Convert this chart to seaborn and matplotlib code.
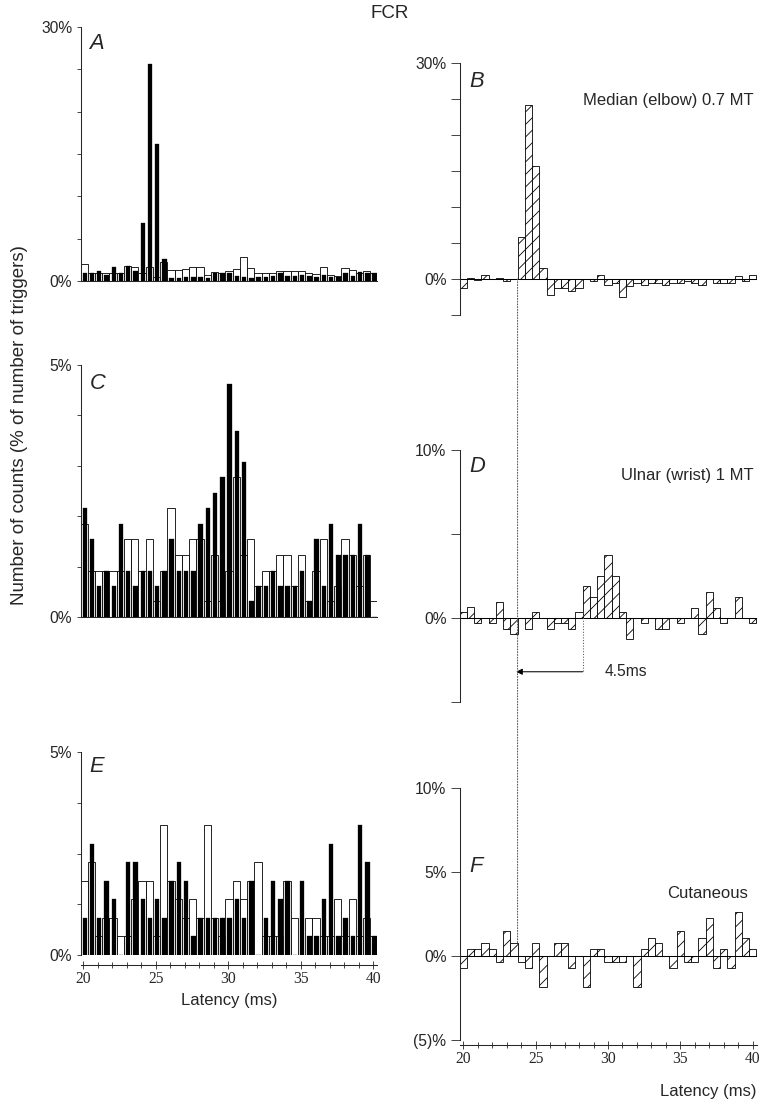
import matplotlib
matplotlib.use("Agg")
import matplotlib.pyplot as plt
from matplotlib.patches import ConnectionPatch
from matplotlib.ticker import MultipleLocator
import seaborn as sns

# latency bins (ms), 0.5 ms wide
latency = [20.0, 20.5, 21.0, 21.5, 22.0, 22.5, 23.0, 23.5, 24.0, 24.5,
           25.0, 25.5, 26.0, 26.5, 27.0, 27.5, 28.0, 28.5, 29.0, 29.5,
           30.0, 30.5, 31.0, 31.5, 32.0, 32.5, 33.0, 33.5, 34.0, 34.5,
           35.0, 35.5, 36.0, 36.5, 37.0, 37.5, 38.0, 38.5, 39.0, 39.5, 40.0]

# left column: counts as % of triggers, white = control, black = conditioned
a_control = [2.0, 0.95, 0.95, 0.95, 0.95, 0.95, 1.8, 1.6, 1.0, 1.7,
             0.5, 2.2, 1.3, 1.3, 1.4, 1.6, 1.6, 0.7, 1.1, 0.95,
             1.2, 1.4, 2.8, 1.5, 0.9, 0.95, 0.95, 1.2, 1.2, 1.2,
             1.2, 0.95, 0.8, 1.6, 0.7, 0.6, 1.5, 1.3, 0.9, 1.2, 0.9]
a_cond = [0.9, 0.95, 1.2, 0.7, 1.6, 0.95, 1.8, 1.2, 6.9, 25.6,
          16.2, 2.6, 0.3, 0.4, 0.5, 0.5, 0.5, 0.4, 0.95, 0.95,
          0.95, 0.6, 0.5, 0.4, 0.5, 0.5, 0.6, 0.95, 0.6, 0.6,
          0.7, 0.6, 0.5, 0.7, 0.5, 0.5, 0.9, 0.6, 1.1, 0.95, 0.95]

c_control = [1.85, 0.92, 0.92, 0.92, 0.92, 0.92, 1.54, 1.54, 0.92, 1.54,
             0.31, 0.92, 2.16, 1.23, 1.23, 1.54, 1.54, 0.31, 1.23, 0.31,
             0.92, 2.78, 1.23, 1.54, 0.62, 0.92, 0.92, 1.23, 1.23, 0.62,
             1.23, 0.31, 0.92, 1.54, 0.31, 0.62, 1.54, 1.23, 0.62, 1.23, 0.31]
c_cond = [2.16, 1.54, 0.62, 0.92, 0.62, 1.85, 0.92, 0.62, 0.92, 0.92,
          0.62, 0.92, 1.54, 0.92, 0.92, 0.92, 1.85, 2.16, 2.47, 2.78,
          4.63, 3.70, 3.08, 0.31, 0.62, 0.62, 0.92, 0.62, 0.62, 0.62,
          0.92, 0.31, 1.54, 0.62, 1.85, 1.23, 1.23, 1.23, 1.85, 1.23, 0.0]

e_control = [1.82, 2.28, 0.46, 0.91, 0.91, 0.46, 0.46, 1.37, 1.82, 1.82,
             0.46, 3.19, 1.82, 1.37, 0.91, 1.37, 0.91, 3.19, 0.91, 0.46,
             1.37, 1.82, 1.37, 1.82, 2.28, 0.46, 0.46, 0.46, 1.82, 0.91,
             0.0, 0.91, 0.91, 0.46, 0.46, 1.37, 0.46, 1.37, 0.46, 0.91, 0.46]
e_cond = [0.91, 2.73, 0.91, 1.82, 1.37, 0.0, 2.28, 2.28, 1.37, 0.91,
          1.37, 0.91, 1.82, 2.28, 1.82, 0.46, 0.91, 0.91, 0.91, 0.91,
          0.91, 1.37, 0.91, 1.82, 0.0, 0.91, 1.82, 1.37, 1.82, 0.0,
          1.82, 0.46, 0.46, 1.37, 2.73, 0.46, 0.91, 0.46, 3.19, 2.28, 0.46]

# right column: conditioned - control (%)
b_diff = [-1.2, 0.2, -0.2, 0.6, 0.0, 0.2, -0.3, 0.0, 5.9, 24.1,
          15.7, 1.5, -2.2, -1.3, -1.3, -1.6, -1.3, 0.0, -0.3, 0.6,
          -0.8, -0.5, -2.5, -1.0, -0.6, -0.8, -0.6, -0.6, -0.8, -0.5,
          -0.5, -0.3, -0.5, -0.9, 0.0, -0.6, -0.6, -0.6, 0.4, -0.3, 0.5]
d_diff = [0.35, 0.65, -0.3, 0.0, -0.3, 0.95, -0.63, -0.95, 0.0, -0.63,
          0.35, 0.0, -0.63, -0.3, -0.3, -0.63, 0.35, 1.9, 1.25, 2.5,
          3.76, 2.5, 0.35, -1.25, 0.0, -0.3, 0.0, -0.63, -0.63, 0.0,
          -0.3, 0.0, 0.6, -0.95, 1.55, 0.6, -0.3, 0.0, 1.25, 0.0, -0.3]
f_diff = [-0.73, 0.4, 0.4, 0.75, 0.4, -0.38, 1.5, 0.75, -0.38, -0.73,
          0.75, -1.87, 0.0, 0.75, 0.75, -0.73, 0.0, -1.87, 0.4, 0.4,
          -0.38, -0.38, -0.38, 0.0, -1.87, 0.4, 1.1, 0.75, 0.0, -0.73,
          1.5, -0.38, -0.38, 1.1, 2.24, -0.73, 0.4, -0.73, 2.6, 1.1, 0.4]

onset_ms = 23.75      # onset of median facilitation
ulnar_ms = 28.25      # onset of ulnar facilitation
arrow_level = -3.2

sns.set_style("ticks")
plt.rcParams["font.family"] = ["Liberation Sans", "DejaVu Sans"]
plt.rcParams["hatch.linewidth"] = 0.8
plt.rcParams["axes.linewidth"] = 1.0

W, H = 772, 1112
fig = plt.figure(figsize=(W / 75, H / 75), dpi=75)


def add_panel(left, top, right, bottom):
    return fig.add_axes([left / W, 1 - bottom / H, (right - left) / W, (bottom - top) / H])


def paired_bars(ax, control, cond):
    sns.barplot(x=[v + 0.05 for v in latency], y=control, native_scale=True, width=1.0,
                color="white", edgecolor="black", linewidth=0.8, saturation=1,
                errorbar=None, ax=ax)
    sns.barplot(x=[v + 0.1 for v in latency], y=cond, native_scale=True, width=0.6,
                color="black", edgecolor="black", linewidth=0.3, saturation=1,
                errorbar=None, ax=ax)


def diff_bars(ax, diff):
    sns.barplot(x=latency, y=diff, native_scale=True, width=1.0, color="white",
                edgecolor="black", linewidth=0.8, hatch="//", saturation=1,
                errorbar=None, ax=ax)
    ax.axhline(0, color="black", lw=1.0)


def style_left(ax, ymax, ticks, labels):
    ax.set_xlim(19.81, 40.3)
    ax.set_ylim(0, ymax)
    ax.set_yticks(ticks, labels=labels)
    ax.tick_params(axis="y", direction="out", length=4, width=0.8, labelsize=15, pad=4)
    ax.tick_params(axis="x", bottom=False, labelbottom=False)
    sns.despine(ax=ax)
    ax.set_xlabel("")
    ax.set_ylabel("")


def style_right(ax, ymin, ymax, ticks, labels):
    ax.set_xlim(19.77, 40.3)
    ax.set_ylim(ymin, ymax)
    ax.set_yticks(ticks, labels=labels)
    ax.tick_params(axis="y", direction="out", length=9, width=0.8, labelsize=15, pad=4)
    ax.tick_params(axis="x", bottom=False, labelbottom=False)
    sns.despine(ax=ax, bottom=True)
    ax.set_xlabel("")
    ax.set_ylabel("")


def latency_axis(ax, offset):
    ax.spines["bottom"].set_visible(True)
    ax.spines["bottom"].set_position(("outward", offset))
    ax.set_xticks([20, 25, 30, 35, 40], labels=["20", "25", "30", "35", "40"],
                  fontfamily="Liberation Serif", fontsize=15)
    ax.xaxis.set_minor_locator(MultipleLocator(1))
    ax.tick_params(axis="x", which="major", bottom=True, labelbottom=True,
                   direction="inout", length=8, width=0.8, pad=2)
    ax.tick_params(axis="x", which="minor", bottom=True, direction="inout",
                   length=5, width=0.8)


# left column
ax_a = add_panel(80.5, 27, 377.5, 281)
paired_bars(ax_a, a_control, a_cond)
style_left(ax_a, 30, [0, 5, 10, 15, 20, 25, 30], ["0%", "", "", "", "", "", "30%"])

ax_c = add_panel(80.5, 365, 377.5, 617)
paired_bars(ax_c, c_control, c_cond)
style_left(ax_c, 5, [0, 1, 2, 3, 4, 5], ["0%", "", "", "", "", "5%"])

ax_e = add_panel(80.5, 752, 377.5, 955)
paired_bars(ax_e, e_control, e_cond)
style_left(ax_e, 5, [0, 1.25, 2.5, 3.75, 5], ["0%", "", "", "", "5%"])
ax_e.axhline(0, color="black", lw=1.0)
latency_axis(ax_e, 9.5)
ax_e.set_xlabel("Latency (ms)", fontsize=16, labelpad=6)

# right column
ax_b = add_panel(460, 63, 757, 315)
diff_bars(ax_b, b_diff)
style_right(ax_b, -5, 30, [-5, 0, 5, 10, 15, 20, 25, 30],
            ["", "0%", "", "", "", "", "", "30%"])

ax_d = add_panel(460, 450, 757, 702)
diff_bars(ax_d, d_diff)
style_right(ax_d, -5, 10, [-5, 0, 5, 10], ["", "0%", "", "10%"])

ax_f = add_panel(460, 788, 757, 1040)
diff_bars(ax_f, f_diff)
style_right(ax_f, -5, 10, [-5, 0, 5, 10], ["(5)%", "0%", "5%", "10%"])
latency_axis(ax_f, 4.5)
ax_f.set_xlabel("Latency (ms)", fontsize=16, labelpad=16, loc="right")

# panel letters and condition labels
for ax, letter, ypos in [(ax_a, "A", 0.975), (ax_c, "C", 0.97), (ax_e, "E", 0.98),
                         (ax_b, "B", 0.97), (ax_d, "D", 0.975), (ax_f, "F", 0.73)]:
    ax.text(0.03, ypos, letter, transform=ax.transAxes, fontsize=21, style="italic",
            ha="left", va="top")

ax_b.text(0.99, 0.853, "Median (elbow) 0.7 MT", transform=ax_b.transAxes,
          fontsize=16, ha="right", va="center")
ax_d.text(0.99, 0.897, "Ulnar (wrist) 1 MT", transform=ax_d.transAxes,
          fontsize=16, ha="right", va="center")
ax_f.text(0.97, 0.583, "Cutaneous", transform=ax_f.transAxes,
          fontsize=16, ha="right", va="center")

# latency markers: onset line through B-F, ulnar onset and 4.5 ms arrow in D
onset_line = ConnectionPatch(xyA=(onset_ms, 0), coordsA=ax_b.transData,
                             xyB=(onset_ms, f_diff[latency.index(23.5)]), coordsB=ax_f.transData,
                             linestyle=":", color="0.35", lw=1.0)
fig.add_artist(onset_line)
ax_d.plot([ulnar_ms, ulnar_ms], [d_diff[latency.index(28.0)], arrow_level],
          linestyle=":", color="0.35", lw=1.0, clip_on=False)
ax_d.annotate("", xy=(onset_ms - 0.1, arrow_level), xytext=(ulnar_ms, arrow_level),
              arrowprops=dict(arrowstyle="-|>", color="black", lw=1.0,
                              mutation_scale=12, shrinkA=0, shrinkB=0),
              annotation_clip=False)
ax_d.text(29.8, arrow_level, "4.5ms", fontsize=15, ha="left", va="center")

fig.text(390 / W, 1 - 14 / H, "FCR", fontsize=18, ha="center", va="center")
fig.text(20 / W, 1 - 425 / H, "Number of counts (% of number of triggers)",
         rotation=90, fontsize=18, ha="center", va="center")

fig.savefig("out.png", dpi=75)
